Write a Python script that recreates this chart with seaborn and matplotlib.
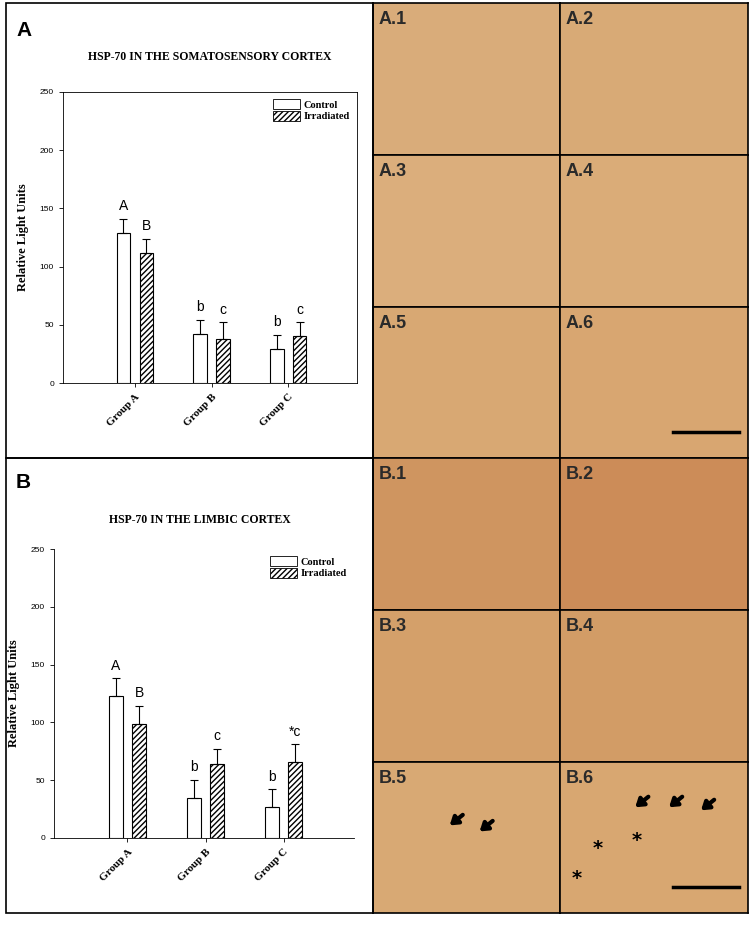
import matplotlib
matplotlib.use("Agg")
import matplotlib.pyplot as plt
from matplotlib.patches import Patch, Rectangle
import seaborn as sns
import pandas as pd

groups = ["Group A", "Group B", "Group C"]
treatments = ["Control", "Irradiated"]

# somatosensory cortex
soma_control = [129, 42, 29]
soma_irrad = [112, 38, 40]
soma_control_err = [12, 12, 12]
soma_irrad_err = [12, 14, 12]
soma_control_lbl = ["A", "b", "b"]
soma_irrad_lbl = ["B", "c", "c"]

# limbic cortex
limb_control = [123, 35, 27]
limb_irrad = [99, 64, 66]
limb_control_err = [15, 15, 15]
limb_irrad_err = [15, 13, 15]
limb_control_lbl = ["A", "b", "b"]
limb_irrad_lbl = ["B", "c", "*c"]

image_labels = ["A.1", "A.2", "A.3", "A.4", "A.5", "A.6",
                "B.1", "B.2", "B.3", "B.4", "B.5", "B.6"]
image_colors = ["#d9ac7a", "#d8aa76", "#dbae7c", "#daac78", "#d8a873", "#d8a671",
                "#cf9560", "#cc8c58", "#d4a06a", "#d29c66", "#d8a974", "#d8a771"]

W, H = 754, 925
fig = plt.figure(figsize=(W / 100, H / 100), dpi=100)
serif = "Liberation Serif"
sans = "Liberation Sans"


def fx(px):
    return px / W


def fy(py):
    return 1 - py / H


def bar_panel(rect, ctrl, irr, cerr, ierr, clbl, ilbl, boxed):
    ax = fig.add_axes(rect)
    df = pd.DataFrame({
        "group": groups * 2,
        "treatment": [treatments[0]] * 3 + [treatments[1]] * 3,
        "value": ctrl + irr,
    })
    sns.barplot(data=df, x="group", y="value", hue="treatment", order=groups,
                hue_order=treatments, width=0.6, gap=0.4, errorbar=None,
                palette=["white", "white"], edgecolor="black", linewidth=0.8,
                ax=ax, legend=False)
    bars = [p for p in ax.patches if isinstance(p, Rectangle)][:6]
    bars = sorted(bars, key=lambda p: p.get_x())
    vals = []
    for i in range(3):
        vals.append((ctrl[i], cerr[i], clbl[i], False))
        vals.append((irr[i], ierr[i], ilbl[i], True))
    for b, (v, e, lbl, hatched) in zip(bars, vals):
        if hatched:
            b.set_hatch("//////")
        cx = b.get_x() + b.get_width() / 2
        ax.errorbar([cx], [v], yerr=[[0], [e]], color="black", lw=0.8,
                    capsize=3, capthick=0.8)
        ax.text(cx, v + e + 5, lbl, ha="center", va="bottom", fontsize=10,
                family=sans)
    ax.set_ylim(0, 250)
    ax.set_xlim(-0.94, 2.9)
    ax.set_yticks(range(0, 251, 50))
    ax.tick_params(axis="y", labelsize=6, length=3, width=0.6)
    ax.tick_params(axis="x", length=3, width=0.6)
    for t in ax.get_yticklabels():
        t.set_family(sans)
    ax.set_xticks(range(3))
    ax.set_xticklabels(groups, rotation=45, ha="right", rotation_mode="anchor",
                       fontsize=8, fontweight="bold", family=serif)
    ax.set_xlabel("")
    ax.set_ylabel("Relative Light Units", fontsize=9, fontweight="bold",
                  family=serif, labelpad=8)
    for s in ax.spines.values():
        s.set_linewidth(0.6)
    if not boxed:
        ax.spines["top"].set_visible(False)
        ax.spines["right"].set_visible(False)
    handles = [Patch(facecolor="white", edgecolor="black", lw=0.6),
               Patch(facecolor="white", edgecolor="black", lw=0.6, hatch="//////")]
    ax.legend(handles, treatments, loc="upper right", frameon=False,
              prop={"family": serif, "weight": "bold", "size": 7.5},
              handlelength=2.6, handleheight=1.1, borderaxespad=0.3,
              labelspacing=0.1, handletextpad=0.3)
    return ax


bar_panel([fx(63), fy(383), fx(357 - 63), (383 - 92) / H],
          soma_control, soma_irrad, soma_control_err, soma_irrad_err,
          soma_control_lbl, soma_irrad_lbl, True)
bar_panel([fx(54), fy(838), fx(354 - 54), (838 - 549) / H],
          limb_control, limb_irrad, limb_control_err, limb_irrad_err,
          limb_control_lbl, limb_irrad_lbl, False)

fig.text(fx(16), fy(30), "A", fontsize=15, fontweight="bold", family=sans, va="center")
fig.text(fx(210), fy(57), "HSP-70 IN THE SOMATOSENSORY CORTEX", fontsize=8.5,
         fontweight="bold", family=serif, ha="center", va="center")
fig.text(fx(16), fy(482), "B", fontsize=15, fontweight="bold", family=sans, va="center")
fig.text(fx(200), fy(520), "HSP-70 IN THE LIMBIC CORTEX", fontsize=8.5,
         fontweight="bold", family=serif, ha="center", va="center")

# micrograph panels
xs = [373, 560, 748]
ys = [3, 155, 307, 458, 610, 762, 913]
arrow_kw = dict(arrowstyle="-|>,head_length=0.45,head_width=0.3", color="black",
                lw=3, shrinkA=0, shrinkB=0)
k = 0
for r in range(6):
    for c in range(2):
        x0, x1 = xs[c], xs[c + 1]
        y0, y1 = ys[r], ys[r + 1]
        iax = fig.add_axes([fx(x0), fy(y1), fx(x1 - x0), (y1 - y0) / H])
        iax.set_facecolor(image_colors[k])
        iax.set_xticks([])
        iax.set_yticks([])
        for s in iax.spines.values():
            s.set_linewidth(1.2)
        iax.set_xlim(0, 1)
        iax.set_ylim(0, 1)
        iax.text(0.03, 0.95, image_labels[k], fontsize=13, fontweight="bold",
                 family=sans, color="#2a2a2a", va="top", transform=iax.transAxes)
        if image_labels[k] in ("A.6", "B.6"):
            iax.plot([0.60, 0.95], [0.17, 0.17], color="black", lw=2.5)
        if image_labels[k] == "B.5":
            for hx, hy in [(0.41, 0.58), (0.57, 0.54)]:
                iax.annotate("", xy=(hx, hy), xytext=(hx + 0.07, hy + 0.07),
                             arrowprops=arrow_kw)
        if image_labels[k] == "B.6":
            for hx, hy in [(0.40, 0.70), (0.58, 0.70), (0.75, 0.68)]:
                iax.annotate("", xy=(hx, hy), xytext=(hx + 0.07, hy + 0.07),
                             arrowprops=arrow_kw)
            for sx, sy in [(0.20, 0.43), (0.41, 0.48), (0.09, 0.23)]:
                iax.text(sx, sy, "*", fontsize=14, fontweight="bold", ha="center",
                         va="center", color="black")
        k += 1

# outer frames for the left panels
fig.add_artist(Rectangle((fx(6), fy(458)), fx(373 - 6), (458 - 3) / H,
                         fill=False, lw=1.2, edgecolor="black", transform=fig.transFigure))
fig.add_artist(Rectangle((fx(6), fy(913)), fx(373 - 6), (913 - 458) / H,
                         fill=False, lw=1.2, edgecolor="black", transform=fig.transFigure))

fig.savefig("out.png", dpi=100, facecolor="white")
